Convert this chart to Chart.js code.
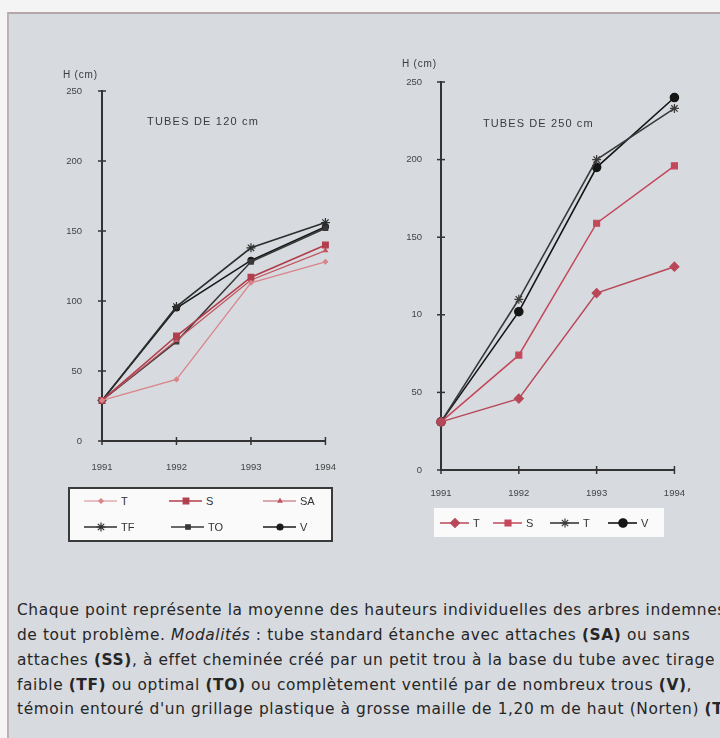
<!DOCTYPE html>
<html><head><meta charset="utf-8">
<script src="https://cdn.jsdelivr.net/npm/chart.js@4.4.1/dist/chart.umd.min.js"></script>
<style>
html,body{margin:0;padding:0;width:720px;height:738px;overflow:hidden;background:#f4f4f4;}
#panel{position:absolute;left:7px;top:12px;width:720px;height:740px;background:#d7dadf;border-top:2px solid #b4a6aa;border-left:2px solid #bdb1b4;}
.abs{position:absolute;white-space:nowrap;}
.small{font-family:"Liberation Sans",Arial,sans-serif;color:#3a3a3a;}
canvas{position:absolute;}
#legL{position:absolute;left:68px;top:487px;width:265px;height:55px;background:#fafafa;border:2px solid #3a3a3a;box-sizing:border-box;}
#legR{position:absolute;left:434px;top:508px;width:230px;height:29px;background:#fafafa;}
.li{position:absolute;display:flex;align-items:center;font-family:"Liberation Sans",Arial,sans-serif;font-size:11px;color:#333;}
.li canvas{position:static;}
.cap{position:absolute;left:17px;font-family:"DejaVu Sans",sans-serif;font-size:15.4px;color:#262626;white-space:nowrap;letter-spacing:0.6px;}
.cap b{font-weight:700;}
</style></head>
<body>
<div id="panel"></div>
<canvas id="cL" width="317" height="420" style="left:40px;top:60px;width:317px;height:420px;"></canvas>
<canvas id="cR" width="323" height="470" style="left:380px;top:50px;width:323px;height:470px;"></canvas>
<div class="abs small" style="left:63px;top:69px;font-size:10px;letter-spacing:0.8px;">H (cm)</div>
<div class="abs small" style="left:147px;top:115px;font-size:11px;letter-spacing:1.2px;">TUBES DE 120 cm</div>
<div class="abs small" style="left:402px;top:58px;font-size:10px;letter-spacing:0.8px;">H (cm)</div>
<div class="abs small" style="left:483px;top:117px;font-size:11px;letter-spacing:1.1px;">TUBES DE 250 cm</div>
<div id="legL"></div>
<div id="legR"></div>
<div class="cap" style="top:601px;">Chaque point représente la moyenne des hauteurs individuelles des arbres indemnes</div>
<div class="cap" style="top:626px;">de tout problème. <i>Modalités</i> : tube standard étanche avec attaches <b>(SA)</b> ou sans</div>
<div class="cap" style="top:651px;">attaches <b>(SS)</b>, à effet cheminée créé par un petit trou à la base du tube avec tirage</div>
<div class="cap" style="top:676px;">faible <b>(TF)</b> ou optimal <b>(TO)</b> ou complètement ventilé par de nombreux trous <b>(V)</b>,</div>
<div class="cap" style="top:700px;">témoin entouré d'un grillage plastique à grosse maille de 1,20 m de haut (Norten) <b>(T)</b>.</div>
<script>
const years = ['1991','1992','1993','1994'];
const leftTickLabels  = ['0','50','100','150','200','250'];
const rightTickLabels = ['0','50','10','150','200','250'];

const leftNames = ['T','S','SA','TF','TO','V'];
const leftT  = [29, 44, 113, 128];
const leftS  = [29, 75, 117, 140];
const leftSA = [29, 72, 115, 136];
const leftTF = [29, 96, 138, 156];
const leftTO = [29, 71, 128, 152];
const leftV  = [29, 95, 129, 153];

const rightNames = ['T','S','T','V'];
const rightT  = [31, 46, 114, 131];
const rightS  = [31, 74, 159, 196];
const rightT2 = [31, 110, 200, 233];
const rightV  = [31, 102, 195, 240];

function ds(label, data, color, style, r, lw){
  return {label, data, borderColor:color, backgroundColor:color, pointBackgroundColor:color,
    pointBorderColor:color, pointStyle:style, pointRadius:r, pointBorderWidth:1.2,
    borderWidth:lw, tension:0, fill:false};
}
const leftSets = [
  ds(leftNames[0], leftT,  '#d8858a', 'rectRot', 2.2, 1.2),
  ds(leftNames[1], leftS,  '#b23e4c', 'rect',    4,   1.6),
  ds(leftNames[2], leftSA, '#c25560', 'triangle',2.2, 1.2),
  ds(leftNames[3], leftTF, '#2e2e2e', 'star',    4.5, 1.6),
  ds(leftNames[4], leftTO, '#383838', 'rect',    3.2, 1.6),
  ds(leftNames[5], leftV,  '#1a1a1a', 'circle',  3,   1.6)
];
const rightSets = [
  ds(rightNames[0], rightT,  '#b84858', 'rectRot', 4.5, 1.5),
  ds(rightNames[1], rightS,  '#c4485a', 'rect',    4.2, 1.5),
  ds(rightNames[2], rightT2, '#3a3a3a', 'star',    4.5, 1.6),
  ds(rightNames[3], rightV,  '#151515', 'circle',  4.2, 1.6)
];

const crossTicks = {
  id:'crossTicks',
  afterDraw(chart){
    const ctx = chart.ctx, xs = chart.scales.x, ys = chart.scales.y, a = chart.chartArea;
    ctx.save(); ctx.strokeStyle = '#333'; ctx.lineWidth = 1.5;
    ys.ticks.forEach(t=>{ const y = ys.getPixelForValue(t.value);
      ctx.beginPath(); ctx.moveTo(a.left-4,y); ctx.lineTo(a.left+4,y); ctx.stroke(); });
    xs.ticks.forEach((t,i)=>{ const x = xs.getPixelForTick(i);
      ctx.beginPath(); ctx.moveTo(x,a.bottom-4); ctx.lineTo(x,a.bottom+4); ctx.stroke(); });
    ctx.restore();
  }
};

function makeChart(id, sets, tickLabels, pad, yW, xH, yPad, xPad){
  return new Chart(document.getElementById(id), {
    type:'line',
    data:{labels:years, datasets:sets},
    options:{
      responsive:false, animation:false, devicePixelRatio:1,
      layout:{padding:pad},
      plugins:{legend:{display:false}, tooltip:{enabled:false}, title:{display:false}},
      scales:{
        x:{offset:false, grid:{display:false, drawTicks:false},
           border:{display:true, color:'#333', width:2},
           ticks:{padding:xPad, color:'#444', font:{family:'Liberation Sans', size:9.5}, maxRotation:0},
           afterFit(s){ s.height = xH; }},
        y:{min:0, max:250, grid:{display:false, drawTicks:false},
           border:{display:true, color:'#333', width:2},
           ticks:{stepSize:50, padding:yPad, color:'#444', font:{family:'Liberation Sans', size:9.5},
             callback:(v)=> tickLabels[Math.round(v/50)]},
           afterFit(s){ s.width = yW; }}
      }
    },
    plugins:[crossTicks]
  });
}
makeChart('cL', leftSets, leftTickLabels, {top:31,right:15,left:0,bottom:0}, 62, 39, 20, 21);
makeChart('cR', rightSets, rightTickLabels, {top:32,right:25,left:0,bottom:0}, 61, 50, 19, 18);

function glyph(set, w){
  const c = document.createElement('canvas'); c.width = w; c.height = 14;
  const ctx = c.getContext('2d');
  ctx.strokeStyle = set.borderColor; ctx.lineWidth = set.borderWidth;
  ctx.beginPath(); ctx.moveTo(1,7); ctx.lineTo(w-2,7); ctx.stroke();
  ctx.fillStyle = set.pointBackgroundColor; ctx.strokeStyle = set.pointBorderColor;
  ctx.lineWidth = set.pointBorderWidth;
  if (Chart.helpers && Chart.helpers.drawPoint){
    Chart.helpers.drawPoint(ctx, {pointStyle:set.pointStyle, radius:set.pointRadius, rotation:0, borderWidth:set.pointBorderWidth}, w/2, 7);
  } else { ctx.beginPath(); ctx.arc(w/2,7,set.pointRadius,0,Math.PI*2); ctx.fill(); }
  return c;
}
function addItem(parent, set, x, y, w){
  const d = document.createElement('div'); d.className='li';
  d.style.left = x+'px'; d.style.top = y+'px';
  d.appendChild(glyph(set, w));
  const s = document.createElement('span'); s.textContent = set.label; s.style.marginLeft='2px';
  d.appendChild(s); parent.appendChild(d);
}
const legL = document.getElementById('legL');
const posL = [[13,5],[98,5],[192,5],[13,31],[100,31],[192,31]];
leftSets.forEach((s,i)=> addItem(legL, s, posL[i][0], posL[i][1], 36));
const legR = document.getElementById('legR');
const posR = [[5,8],[58,8],[115,8],[173,8]];
rightSets.forEach((s,i)=> addItem(legR, s, posR[i][0], posR[i][1], 32));
</script>
</body></html>
